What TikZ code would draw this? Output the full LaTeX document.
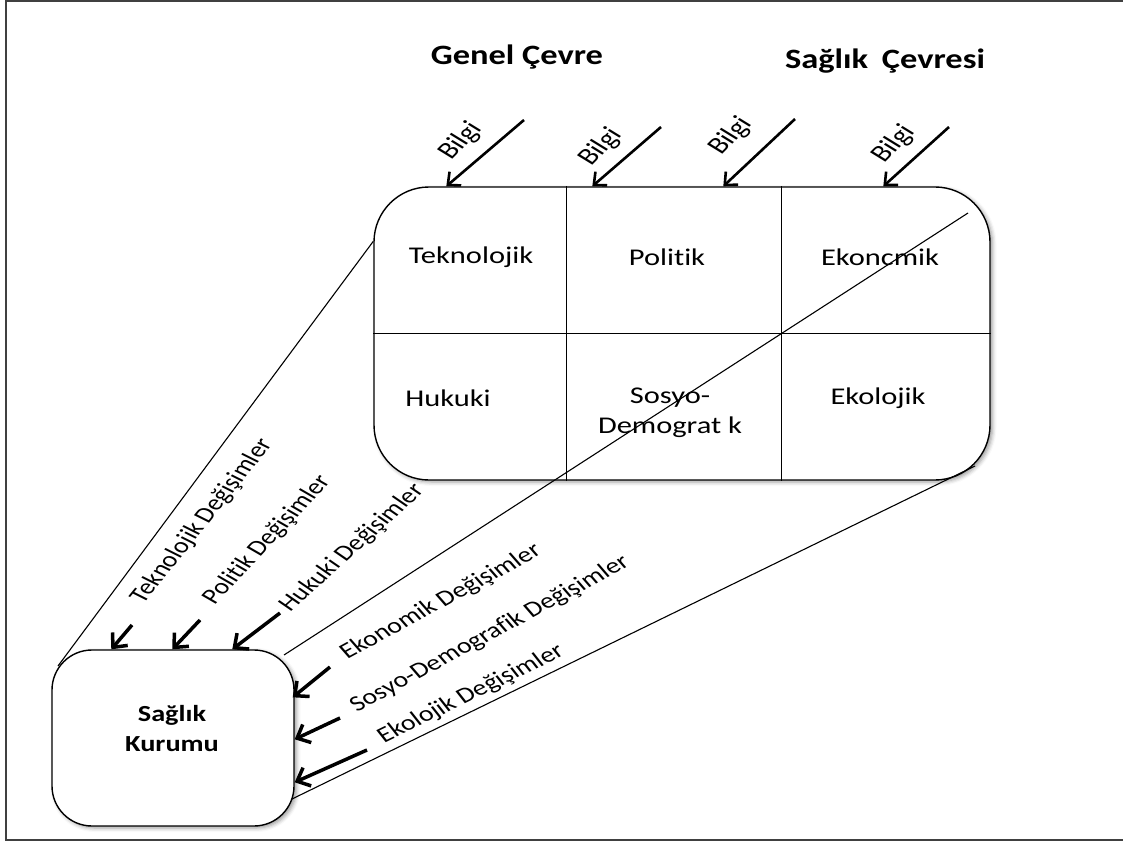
\documentclass[tikz,border=0pt]{standalone}
\usepackage{fontspec}
\setmainfont{Carlito}[Ligatures={NoCommon,NoRequired,NoContextual}]
\usetikzlibrary{arrows.meta,calc,shadows.blur}

\begin{document}
\begin{tikzpicture}[x=1pt,y=-1pt,
  frame/.style={draw=black!75, line width=2pt},
  softshadow/.style={blur shadow={shadow xshift=2.5pt, shadow yshift=-2pt, shadow blur radius=4pt, shadow opacity=40}},
  panel/.style={draw=black, line width=1.4pt, rounded corners=55pt, fill=white,
    minimum width=616pt, minimum height=293pt, inner sep=0pt, softshadow},
  unit/.style={draw=black, line width=1.4pt, rounded corners=40pt, fill=white,
    minimum width=242pt, minimum height=176pt, inner sep=0pt, softshadow},
  gridline/.style={draw=black, line width=1.4pt},
  cone/.style={draw=black, line width=1.1pt},
  title/.style={font=\bfseries\fontsize{28}{34}\selectfont, xscale=1.23, inner sep=0pt},
  unitlbl/.style={font=\bfseries\fontsize{23}{30}\selectfont, xscale=1.23, align=center, inner sep=0pt},
  cell/.style={font=\fontsize{24}{30}\selectfont, xscale=1.27, align=center, inner sep=0pt},
  tag/.style={font=\fontsize{22}{26}\selectfont, xscale=1.27, inner sep=0pt},
  infotag/.style={font=\fontsize{24}{28}\selectfont, xscale=1.27, inner sep=0pt},
  info/.style={draw=black, line width=2.6pt, -{Straight Barb[length=10pt,width=18pt]}},
  push/.style={draw=black, line width=3.5pt, -{Straight Barb[length=11pt,width=20pt]}},
]
\useasboundingbox (0,0) rectangle (1123,842);
\draw[frame] (1140,1) -- (6,1) -- (6,840) -- (1140,840);

% headings
\node[title] (genel) at (517,57) {Genel Çevre};
\node[title] (saglik) at (885,61) {Sağlık\hspace{0.4em}Çevresi};

% environment panel and the health institution
\node[panel] (panel) at (682,333.5) {};
\node[unit] (unit) at (173,738) {};
\node[unitlbl] (unitlbl) at (172,729) {Sağlık\\Kurumu};

% grid of the environment panel
\draw[gridline] ([xshift=193pt]panel.north west) -- ([xshift=193pt]panel.south west);
\draw[gridline] ([xshift=408pt]panel.north west) -- ([xshift=408pt]panel.south west);
\draw[gridline] (panel.west) -- (panel.east);

% cell labels
\node[cell] (tek) at (471,257) {Teknolojik};
\node[cell] (pol) at (667,257) {Politik};
\node[cell] (eko) at (880,257) {Ekoncmik};
\node[cell] (huk) at (448,398) {Hukuki};
\node[cell] (sos) at (670,413) {Sosyo-\\Demograt k};
\node[cell] (ekl) at (878,398) {Ekolojik};

% lines joining the institution to the panel
\coordinate (kA) at (58,666);
\coordinate (pA) at ([yshift=-55pt]panel.north west);
\coordinate (kB) at (284,655);
\coordinate (pB) at (968,213);
\coordinate (kC) at (292,799);
\coordinate (pC) at (975,466);
\draw[cone] (kA) -- (pA);
\draw[cone] (kB) -- (pB);
\draw[cone] (kC) -- (pC);

% information flowing into the panel
\coordinate (b1) at (524,120);
\coordinate (b2) at (661,127);
\coordinate (b3) at (795,119);
\coordinate (b4) at (949,127);
\draw[info] (b1) -- ([xshift=73pt]panel.north west);
\draw[info] (b2) -- ([xshift=219pt]panel.north west);
\draw[info] (b3) -- ([xshift=350pt]panel.north west);
\draw[info] (b4) -- ([xshift=510pt]panel.north west);
\node[infotag, rotate=52] (i1) at (461,141) {Bilgi};
\node[infotag, rotate=52] (i2) at (601,147) {Bilgi};
\node[infotag, rotate=52] (i3) at (731,136) {Bilgi};
\node[infotag, rotate=52] (i4) at (894,144) {Bilgi};

% changes acting on the institution
\coordinate (c1) at (132,625);
\coordinate (c2) at (200,620);
\coordinate (c3) at (280,613);
\coordinate (c4) at (330,667);
\coordinate (c5) at (340,718);
\coordinate (c6) at (367,750);
\draw[push] (c1) -- ([xshift=60pt]unit.north west);
\draw[push] (c2) -- ([xshift=121pt]unit.north west);
\draw[push] (c3) -- ([xshift=181pt]unit.north west);
\draw[push] (c4) -- ([shift={(-2,48)}]unit.north east);
\draw[push] (c5) -- ([shift={(0,90)}]unit.north east);
\draw[push] (c6) -- ([shift={(0,133)}]unit.north east);

\node[tag, rotate=57.5] (d1) at (202,521) {Teknolojik Değişimler};
\node[tag, rotate=53.7] (d2) at (267,540) {Politik Değişimler};
\node[tag, rotate=48.8] (d3) at (352,548) {Hukuki Değişimler};
\node[tag, rotate=34.6] (d4) at (441,602) {Ekonomik Değişimler};
\node[tag, rotate=34.3] (d5) at (490,634) {Sosyo-Demografik Değişimler};
\node[tag, rotate=31.8] (d6) at (471,694) {Ekolojik Değişimler};
\end{tikzpicture}
\end{document}
